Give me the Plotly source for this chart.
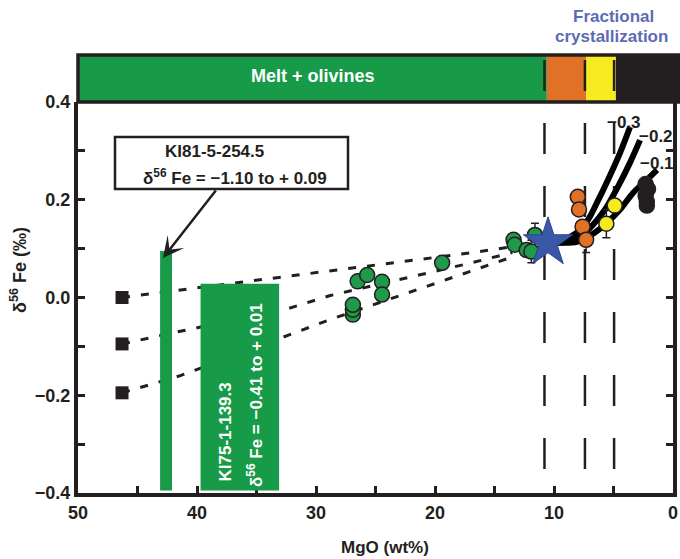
import plotly.graph_objects as go

# ---------------- data ----------------
sq_mgo = [46.3, 46.3, 46.3]
sq_fe = [0.0, -0.095, -0.195]

# dotted mixing lines
mix1_mgo = [46.3, 37.0, 28.7, 17.1, 13.5]
mix1_fe = [0.0, 0.029, 0.055, 0.091, 0.104]
mix2_mgo = [46.3, 41.2, 32.8, 28.8, 17.1, 13.5]
mix2_fe = [-0.095, -0.068, -0.026, 0.004, 0.070, 0.092]
mix3_mgo = [46.3, 41.4, 28.8, 17.1, 13.5]
mix3_fe = [-0.195, -0.160, -0.045, 0.052, 0.083]

green_mgo = [26.9, 26.9, 26.9, 26.5, 25.7, 24.45, 24.45, 19.4, 13.4, 13.3, 12.3, 11.9, 11.6]
green_fe = [-0.035, -0.025, -0.015, 0.033, 0.046, 0.032, 0.006, 0.071, 0.118, 0.108, 0.097, 0.094, 0.128]
green_err = [0, 0, 0, 0, 0, 0, 0, 0, 0, 0, 0, 0.023, 0.024]

orange_mgo = [8.0, 7.9, 7.6, 7.3]
orange_fe = [0.206, 0.180, 0.145, 0.118]
orange_err = [0, 0, 0, 0.026]

yellow_mgo = [4.9, 5.6]
yellow_fe = [0.188, 0.151]
yellow_err = [0, 0.029]

black_mgo = [2.3, 2.1, 2.3, 2.2, 2.2]
black_fe = [0.232, 0.222, 0.208, 0.196, 0.188]

star_mgo = [10.5]
star_fe = [0.112]

# fractional crystallization curves (labels = fractionation factor)
c03_mgo = [10.5, 10.08, 9.24, 8.07, 7.14, 6.39, 5.46, 4.45, 3.61]
c03_fe = [0.112, 0.114, 0.118, 0.133, 0.159, 0.194, 0.241, 0.296, 0.349]
c02_mgo = [10.5, 8.91, 7.82, 6.72, 5.71, 4.62, 3.61, 2.77]
c02_fe = [0.112, 0.114, 0.124, 0.149, 0.180, 0.227, 0.276, 0.322]
c01_mgo = [10.5, 9.5, 8.07, 6.81, 5.55, 4.45, 3.36, 2.18, 1.34]
c01_fe = [0.112, 0.112, 0.114, 0.129, 0.153, 0.180, 0.214, 0.241, 0.261]
curve_labels = ["−0.3", "−0.2", "−0.1"]

# sample ranges (bars)
bar1_mgo = [42.1, 43.1]
bar1_fe = [-0.4, 0.095]
bar2_mgo = [33.1, 39.7]
bar2_fe = [-0.4, 0.028]

# phase band boundaries (MgO) and vertical boundaries
band_edges = [50, 10.6, 7.3, 4.8, -0.6]
band_colors = ["#179B48", "#E07127", "#F5EB1E", "#231F20"]
vlines_mgo = [10.8, 7.4, 4.95]

x_ticks = [50, 40, 30, 20, 10, 0]
y_ticks = [0.4, 0.2, 0.0, -0.2, -0.4]

# ---------------- layout helpers (reference pixels -> coords) ----------------
W, H = 680, 559
L, R, T, B = 78, 673, 102, 493   # plot frame in pixels
def px2x(px):
    return 50 - (px - L) / (R - L) * 50
def py2y(py):
    return 0.4 - (py - T) / (B - T) * 0.8
def px2p(px):
    return (px - L) / (R - L)
def py2p(py):
    return (B - py) / (B - T)
def m2p(m):
    return (50 - m) / 50

FONT = "Liberation Sans, Arial, sans-serif"
INK = "#231F20"
GREEN = "#179B48"

fig = go.Figure()

dot = dict(color=INK, width=3, dash="8px,11px")
for xs, ys in [(mix1_mgo, mix1_fe), (mix2_mgo, mix2_fe), (mix3_mgo, mix3_fe)]:
    fig.add_trace(go.Scatter(x=xs, y=ys, mode="lines", line=dot, hoverinfo="skip"))

for xs, ys in [(c03_mgo, c03_fe), (c02_mgo, c02_fe), (c01_mgo, c01_fe)]:
    fig.add_trace(go.Scatter(x=xs, y=ys, mode="lines",
                             line=dict(color="black", width=6, shape="spline", smoothing=0.8)))

def circles(xs, ys, color, err=None):
    kw = {}
    if err is not None:
        kw["error_y"] = dict(type="data", array=err, visible=True, color=INK, thickness=1.5, width=4)
    fig.add_trace(go.Scatter(x=xs, y=ys, mode="markers",
                             marker=dict(size=15, color=color, line=dict(color=INK, width=1.5)), **kw))

circles(green_mgo, green_fe, "#1E9A4A", green_err)
circles(orange_mgo, orange_fe, "#E07127", orange_err)
circles(yellow_mgo, yellow_fe, "#F5EB1E", yellow_err)
circles(black_mgo, black_fe, INK)

fig.add_trace(go.Scatter(x=star_mgo, y=star_fe, mode="markers",
                         marker=dict(symbol="star", size=37, color="#3B57A8",
                                     line=dict(color="#2C4590", width=1))))
fig.add_trace(go.Scatter(x=sq_mgo, y=sq_fe, mode="markers",
                         marker=dict(symbol="square", size=13, color=INK)))

shapes = []
# phase band
band_y0, band_y1 = 1.0, py2p(55)
for i, c in enumerate(band_colors):
    shapes.append(dict(type="rect", xref="paper", yref="paper",
                       x0=m2p(band_edges[i]), x1=m2p(band_edges[i + 1]),
                       y0=band_y0, y1=band_y1, fillcolor=c, line=dict(width=0), layer="below"))
shapes.append(dict(type="rect", xref="paper", yref="paper", x0=0, x1=m2p(band_edges[-1]),
                   y0=band_y0, y1=band_y1, line=dict(color=INK, width=3.5), layer="below"))
# vertical dashed lines
for m in vlines_mgo:
    shapes.append(dict(type="line", xref="paper", yref="paper", x0=m2p(m), x1=m2p(m),
                       y0=py2p(60), y1=py2p(476),
                       line=dict(color=INK, width=2.5, dash="31px,32px"), layer="below"))
# green sample bars
for xs, ys in [(bar1_mgo, bar1_fe), (bar2_mgo, bar2_fe)]:
    shapes.append(dict(type="rect", xref="x", yref="y", x0=xs[0], x1=xs[1],
                       y0=ys[0] + 0.005, y1=ys[1], fillcolor=GREEN, line=dict(width=0), layer="above"))
# annotation box
shapes.append(dict(type="rect", xref="paper", yref="paper", x0=px2p(115), x1=px2p(348),
                   y0=py2p(189), y1=py2p(137), fillcolor="white",
                   line=dict(color=INK, width=2.5), layer="above"))

ann = []
def txt(text, px, py, size=18, color=INK, angle=0, xanchor="center", yanchor="middle"):
    ann.append(dict(text=text, xref="paper", yref="paper", x=px2p(px), y=py2p(py),
                    showarrow=False, textangle=angle, xanchor=xanchor, yanchor=yanchor,
                    font=dict(family=FONT, size=size, color=color, weight="bold")))

txt("Melt + olivines", 313, 76, color="white")
txt("Fractional", 613, 17, size=17, color="#5D6BB3")
txt("crystallization", 611, 36, size=17, color="#5D6BB3")
txt("KI81-5-254.5", 214, 151, size=17)
txt("δ<sup>56</sup> Fe = −1.10 to + 0.09", 235, 177, size=17)
txt("KI75-1-139.3", 225, 484, size=17, color="white", angle=-90, yanchor="bottom")
txt("δ<sup>56</sup> Fe = −0.41 to + 0.01", 255, 489, size=17, color="white", angle=-90, yanchor="bottom")
txt(curve_labels[0], 624, 122, size=17)
txt(curve_labels[1], 656, 136, size=17)
txt(curve_labels[2], 657, 163, size=17)
txt("δ<sup>56</sup> Fe (‰)", 18, 270, size=18, angle=-90)
txt("MgO (wt%)", 385, 547, size=17)

ann.append(dict(x=px2x(163), y=py2y(258), ax=px2x(217), ay=py2y(189),
                xref="x", yref="y", axref="x", ayref="y", text="", showarrow=True,
                arrowhead=3, arrowsize=1.4, arrowwidth=2.5, arrowcolor=INK, standoff=0))

axis_font = dict(family=FONT, size=18, color=INK, weight="bold")
fig.update_layout(
    width=W, height=H,
    margin=dict(l=L, r=W - R, t=T, b=H - B, autoexpand=False),
    paper_bgcolor="white", plot_bgcolor="white", showlegend=False,
    shapes=shapes, annotations=ann,
    xaxis=dict(range=[50, 0], tickvals=x_ticks, ticktext=[str(v) for v in x_ticks],
               ticks="inside", ticklen=7, tickwidth=3, tickcolor=INK, automargin=False,
               minor=dict(dtick=5, ticks="inside", ticklen=7, tickwidth=3, tickcolor=INK),
               showline=True, linewidth=4, linecolor=INK, mirror=False,
               showgrid=False, zeroline=False, tickfont=axis_font),
    yaxis=dict(range=[-0.4, 0.4], tickvals=y_ticks, tickformat=".1f",
               ticks="inside", ticklen=7, tickwidth=3, tickcolor=INK, automargin=False,
               minor=dict(dtick=0.1, ticks="inside", ticklen=7, tickwidth=3, tickcolor=INK),
               showline=True, linewidth=4, linecolor=INK, mirror="ticks",
               showgrid=False, zeroline=False, tickfont=axis_font),
)

# the page's default body margin would offset the figure; remove it
fig.write_html("out.html", config={"displayModeBar": False},
               post_script="document.body.style.margin='0';document.body.style.overflow='hidden';")
